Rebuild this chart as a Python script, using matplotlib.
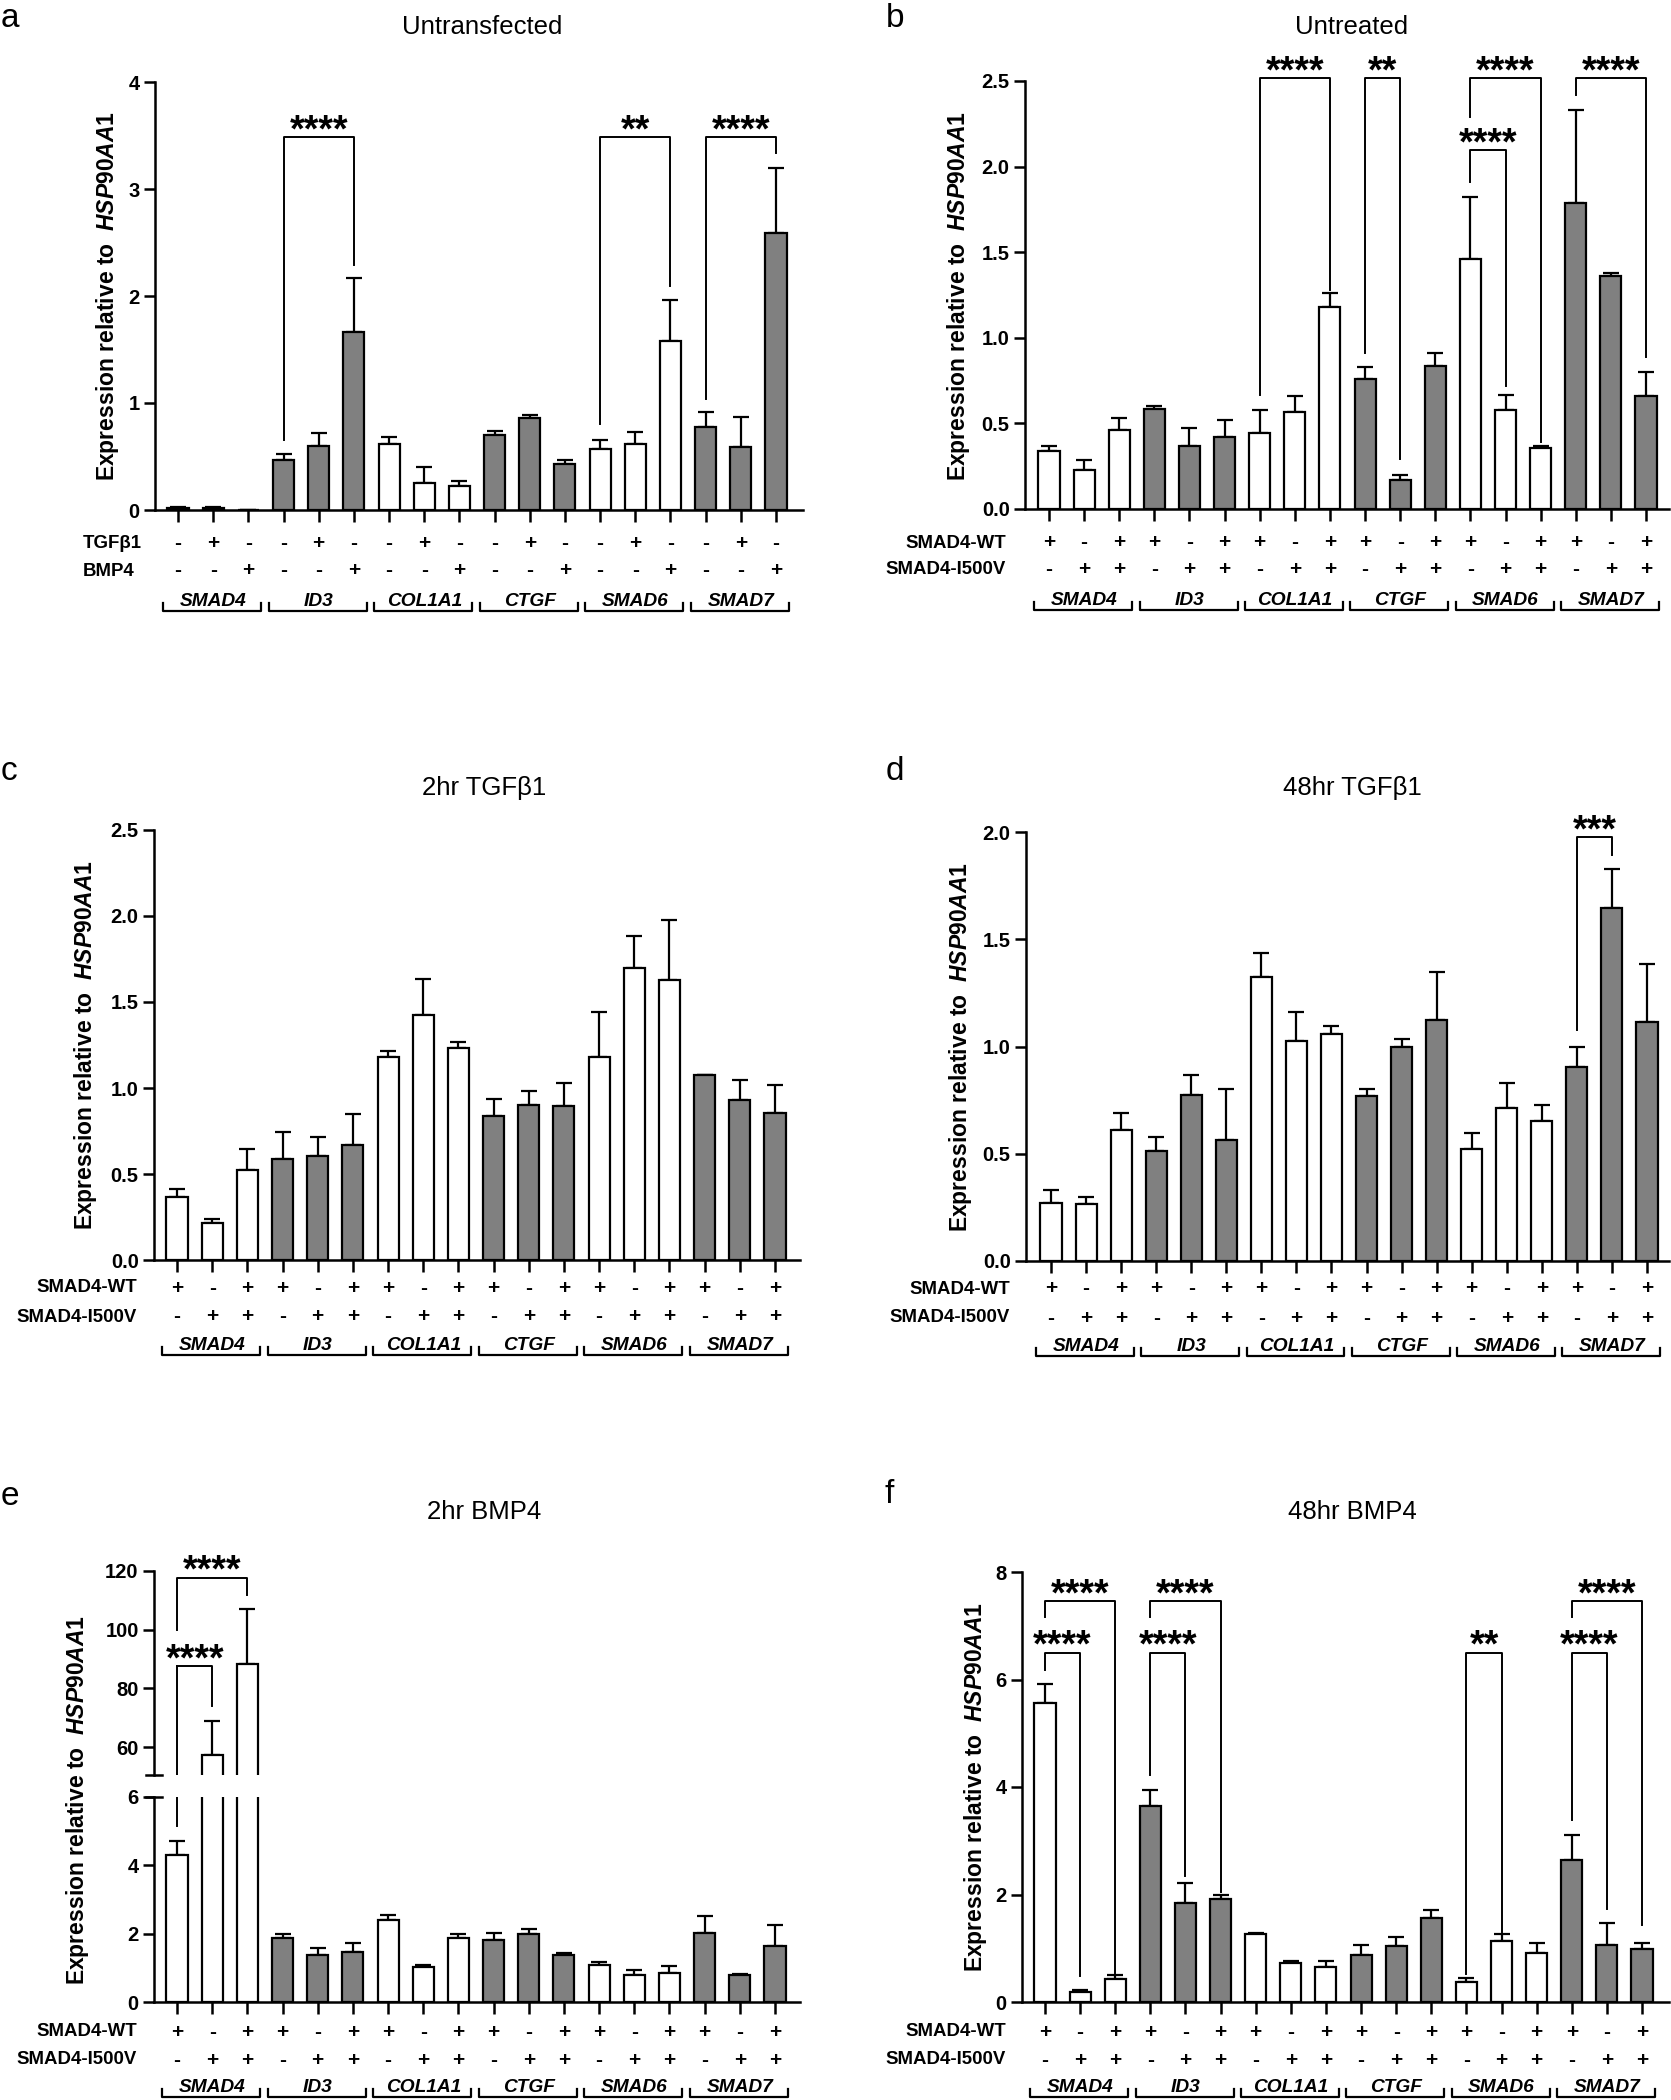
import matplotlib
matplotlib.use('Agg')
import matplotlib.pyplot as plt
from matplotlib import transforms
from matplotlib.lines import Line2D

W, H = 1671, 2100
SANS = ['Liberation Sans', 'DejaVu Sans']
plt.rcParams['mathtext.fontset'] = 'custom'
plt.rcParams['mathtext.it'] = 'Liberation Sans:italic:bold'
plt.rcParams['mathtext.rm'] = 'Liberation Sans:bold'
plt.rcParams['mathtext.bf'] = 'Liberation Sans:bold'

# ---------------- data ----------------
genes = ['SMAD4', 'ID3', 'COL1A1', 'CTGF', 'SMAD6', 'SMAD7']
group_fill = ['white', '#808080', 'white', '#808080', 'white', '#808080']

a_row_names = ['TGFβ1', 'BMP4']
a_row1 = ['-', '+', '-'] * 6
a_row2 = ['-', '-', '+'] * 6
row_names = ['SMAD4-WT', 'SMAD4-I500V']
wt_row = ['+', '-', '+'] * 6
mut_row = ['-', '+', '+'] * 6

a_means = [0.02, 0.02, 0.004, 0.47, 0.60, 1.66, 0.62, 0.255, 0.22, 0.70, 0.86, 0.43, 0.57, 0.62, 1.58, 0.78, 0.59, 2.59]
a_errs = [0.01, 0.01, 0.0, 0.05, 0.12, 0.51, 0.06, 0.145, 0.05, 0.04, 0.03, 0.04, 0.08, 0.11, 0.38, 0.14, 0.28, 0.61]

b_means = [0.34, 0.23, 0.46, 0.585, 0.37, 0.42, 0.444, 0.567, 1.18, 0.758, 0.17, 0.836, 1.46, 0.58, 0.358, 1.79, 1.36, 0.66]
b_errs = [0.026, 0.057, 0.07, 0.015, 0.105, 0.10, 0.136, 0.093, 0.08, 0.072, 0.03, 0.074, 0.36, 0.086, 0.012, 0.54, 0.02, 0.14]

c_means = [0.368, 0.214, 0.523, 0.587, 0.607, 0.666, 1.18, 1.424, 1.233, 0.835, 0.90, 0.896, 1.18, 1.695, 1.63, 1.073, 0.928, 0.857]
c_errs = [0.047, 0.022, 0.125, 0.157, 0.108, 0.181, 0.038, 0.212, 0.037, 0.101, 0.085, 0.131, 0.26, 0.189, 0.347, 0.005, 0.121, 0.162]

d_means = [0.27, 0.266, 0.613, 0.512, 0.776, 0.566, 1.326, 1.027, 1.06, 0.767, 0.997, 1.125, 0.52, 0.711, 0.654, 0.906, 1.647, 1.115]
d_errs = [0.06, 0.034, 0.075, 0.068, 0.093, 0.234, 0.11, 0.133, 0.035, 0.033, 0.037, 0.221, 0.077, 0.117, 0.073, 0.094, 0.18, 0.268]

e_means = [4.29, 57.4, 88.4, 1.86, 1.385, 1.45, 2.40, 1.016, 1.86, 1.82, 1.99, 1.385, 1.095, 0.79, 0.84, 2.02, 0.78, 1.65]
e_errs = [0.42, 11.6, 18.5, 0.12, 0.185, 0.29, 0.16, 0.054, 0.13, 0.21, 0.16, 0.055, 0.075, 0.16, 0.215, 0.49, 0.05, 0.59]

f_means = [5.56, 0.18, 0.43, 3.65, 1.85, 1.92, 1.26, 0.734, 0.66, 0.876, 1.034, 1.56, 0.367, 1.134, 0.917, 2.64, 1.067, 0.984]
f_errs = [0.35, 0.045, 0.08, 0.30, 0.37, 0.08, 0.03, 0.026, 0.10, 0.184, 0.176, 0.16, 0.083, 0.136, 0.183, 0.47, 0.40, 0.116]

# significance: (bar i, bar j, bracket top, left leg end, right leg end, label)
a_sig = [(3, 5, 3.487, 0.65, 2.29, '****'), (12, 14, 3.487, 0.80, 2.09, '**'), (15, 17, 3.487, 1.04, 3.34, '****')]
b_sig = [(6, 8, 2.516, 0.666, 1.28, '****'), (9, 10, 2.516, 0.914, 0.29, '**'),
         (12, 14, 2.516, 2.29, 0.39, '****'), (12, 13, 2.095, 1.91, 0.72, '****'),
         (15, 17, 2.516, 2.42, 0.89, '****')]
d_sig = [(15, 16, 1.976, 1.078, 1.895, '***')]
e_sig_upper = [(0, 2, 117.7, 99.8, 111.8, '****')]
e_sig_cross = (0, 1, 87.6, 5.15, 73.9, '****')
f_sig = [(0, 2, 7.46, 7.17, 0.54, '****'), (0, 1, 6.5, 6.18, 0.475, '****'),
         (3, 5, 7.46, 7.17, 2.04, '****'), (3, 4, 6.5, 4.23, 2.34, '****'),
         (12, 13, 6.5, 0.52, 1.31, '**'), (15, 17, 7.46, 7.17, 1.43, '****'),
         (15, 16, 6.5, 3.39, 1.73, '****')]

# ---------------- figure ----------------
fig = plt.figure(figsize=(W / 100, H / 100), dpi=100)
YTFS = 14.5
ROWFS = 13.4
PMFS = 15
GENEFS = 13.8
STARFS = 27


def fx(p):
    return p / W


def fy(p):
    return 1 - p / H


def make_ax(L, R, T, B, first, last):
    ax = fig.add_axes([fx(L), fy(B), (R - L) / W, (B - T) / H])
    sp = (last - first) / 17.0
    ax.set_xlim((L - first) / sp, 17 + (R - last) / sp)
    ax.patch.set_alpha(0)
    for s in ['top', 'right']:
        ax.spines[s].set_visible(False)
    for s in ['left', 'bottom']:
        ax.spines[s].set_linewidth(1.8)
    ax.set_xticks(range(18))
    ax.set_xticklabels([])
    ax.tick_params(axis='x', length=8.5, width=1.8, direction='out')
    ax.tick_params(axis='y', length=8, width=1.8, direction='out', pad=3)
    return ax


def set_yt(ax, ticks, labels):
    ax.set_yticks(ticks)
    ax.set_yticklabels(labels, fontsize=YTFS, fontweight='bold', family=SANS)


def draw_bars(ax, means, errs):
    x = list(range(18))
    cols = [group_fill[i // 3] for i in x]
    ax.bar(x, means, width=0.6, color=cols, edgecolor='black', linewidth=1.6, zorder=3)
    ax.errorbar(x, means, yerr=[[0] * 18, errs], fmt='none', ecolor='black',
                elinewidth=1.6, capsize=5.5, capthick=1.6, zorder=2)


def stars(ax, x, y, txt):
    ax.annotate(txt, xy=(x, y), xytext=(0, -3), textcoords='offset points',
                ha='center', va='baseline', fontsize=STARFS, fontweight='bold',
                family=SANS, annotation_clip=False)


def draw_sig(ax, sig):
    for i, j, top, yl, yr, txt in sig:
        ax.plot([i, i, j, j], [yl, top, top, yr], color='black', lw=1.4, clip_on=False, zorder=4)
        stars(ax, (i + j) / 2, top, txt)


def draw_xlabels(ax, B, rows, names_, names_x, names_ha, offs=(34, 61), brk=101):
    tr = transforms.blended_transform_factory(ax.transData, fig.transFigure)
    for r, (row, nm) in enumerate(zip(rows, names_)):
        yy = B + offs[r]
        for i, s in enumerate(row):
            ax.text(i, fy(yy), s, transform=tr, ha='center', va='center',
                    fontsize=PMFS, fontweight='bold', family=SANS, clip_on=False)
        fig.text(fx(names_x), fy(yy), nm, ha=names_ha, va='center', fontsize=ROWFS,
                 fontweight='bold', family=SANS)
    ybr = B + brk
    for g, gname in enumerate(genes):
        x0, x1 = 3 * g - 0.42, 3 * g + 2.37
        ax.add_line(Line2D([x0, x0, x1, x1], [fy(ybr - 8), fy(ybr), fy(ybr), fy(ybr - 8)],
                           transform=tr, color='black', lw=1.6, clip_on=False))
        ax.text(3 * g + 1, fy(ybr - 5), gname, transform=tr, ha='center', va='baseline',
                fontsize=GENEFS, fontweight='bold', style='italic', family=SANS, clip_on=False)


def ylabel(xpx, ypx):
    fig.text(fx(xpx), fy(ypx), r'Expression relative to  $\mathit{HSP90AA1}$', rotation=90,
             ha='center', va='center', fontsize=16.5, fontweight='bold', family=SANS)


def titles(letter, lx, ly, title, tx, ty):
    fig.text(fx(lx), fy(ly), letter, ha='left', va='baseline', fontsize=24, family=SANS)
    fig.text(fx(tx), fy(ty), title, ha='center', va='baseline', fontsize=18.5, family=SANS)


# ----- panel a -----
ax = make_ax(155, 803, 82, 510, 178, 776)
ax.set_ylim(0, 4)
set_yt(ax, [0, 1, 2, 3, 4], ['0', '1', '2', '3', '4'])
draw_bars(ax, a_means, a_errs)
draw_sig(ax, a_sig)
draw_xlabels(ax, 510, [a_row1, a_row2], a_row_names, 83, 'left')
ylabel(108, 296)
titles('a', 1, 27, 'Untransfected', 482, 34)

# ----- panel b -----
ax = make_ax(1025, 1669, 81, 509, 1049, 1646)
ax.set_ylim(0, 2.5)
set_yt(ax, [0, 0.5, 1.0, 1.5, 2.0, 2.5], ['0.0', '0.5', '1.0', '1.5', '2.0', '2.5'])
draw_bars(ax, b_means, b_errs)
draw_sig(ax, b_sig)
draw_xlabels(ax, 509, [wt_row, mut_row], row_names, 1006, 'right')
ylabel(959, 296)
titles('b', 886, 27, 'Untreated', 1352, 34)

# ----- panel c -----
ax = make_ax(154, 800, 830, 1260, 177, 775)
ax.set_ylim(0, 2.5)
set_yt(ax, [0, 0.5, 1.0, 1.5, 2.0, 2.5], ['0.0', '0.5', '1.0', '1.5', '2.0', '2.5'])
draw_bars(ax, c_means, c_errs)
draw_xlabels(ax, 1260, [wt_row, mut_row], row_names, 137, 'right', offs=(28, 57), brk=95)
ylabel(86, 1045)
titles('c', 1, 780, '2hr TGFβ1', 484, 795)

# ----- panel d -----
ax = make_ax(1026, 1669, 832, 1261, 1051, 1647)
ax.set_ylim(0, 2.0)
set_yt(ax, [0, 0.5, 1.0, 1.5, 2.0], ['0.0', '0.5', '1.0', '1.5', '2.0'])
draw_bars(ax, d_means, d_errs)
draw_sig(ax, d_sig)
draw_xlabels(ax, 1261, [wt_row, mut_row], row_names, 1010, 'right', offs=(28, 57), brk=95)
ylabel(961, 1047)
titles('d', 886, 780, '48hr TGFβ1', 1352, 795)

# ----- panel e (broken axis) -----
axl = make_ax(154, 800, 1797, 2002, 177, 775)
axl.set_ylim(0, 6)
set_yt(axl, [0, 2, 4, 6], ['0', '2', '4', '6'])
draw_bars(axl, e_means, e_errs)
axu = make_ax(154, 800, 1571, 1775, 177, 775)
axu.set_ylim(50.5, 120)
axu.spines['bottom'].set_visible(False)
axu.tick_params(axis='x', length=0)
set_yt(axu, [60, 80, 100, 120], ['60', '80', '100', '120'])
draw_bars(axu, e_means, e_errs)
draw_sig(axu, e_sig_upper)
i, j, top, yl, yr, txt = e_sig_cross
axu.plot([i, i], [40, top], color='black', lw=1.4, clip_on=True, zorder=4)
axu.plot([i, j, j], [top, top, yr], color='black', lw=1.4, clip_on=False, zorder=4)
stars(axu, (i + j) / 2, top, txt)
axl.plot([i, i], [yl, 7], color='black', lw=1.4, clip_on=True, zorder=4)
for yb in [1775, 1797]:
    fig.add_artist(Line2D([fx(154 - 8), fx(154 + 8)], [fy(yb), fy(yb)], transform=fig.transFigure,
                          color='black', lw=1.8))
draw_xlabels(axl, 2002, [wt_row, mut_row], row_names, 137, 'right', offs=(30, 58), brk=95)
ylabel(78, 1800)
titles('e', 1, 1505, '2hr BMP4', 484, 1519)

# ----- panel f -----
ax = make_ax(1022, 1669, 1572, 2002, 1045, 1642)
ax.set_ylim(0, 8)
set_yt(ax, [0, 2, 4, 6, 8], ['0', '2', '4', '6', '8'])
draw_bars(ax, f_means, f_errs)
draw_sig(ax, f_sig)
draw_xlabels(ax, 2002, [wt_row, mut_row], row_names, 1006, 'right', offs=(30, 58), brk=95)
ylabel(975, 1787)
titles('f', 885, 1503, '48hr BMP4', 1352, 1519)

fig.savefig('out.png', dpi=100)
